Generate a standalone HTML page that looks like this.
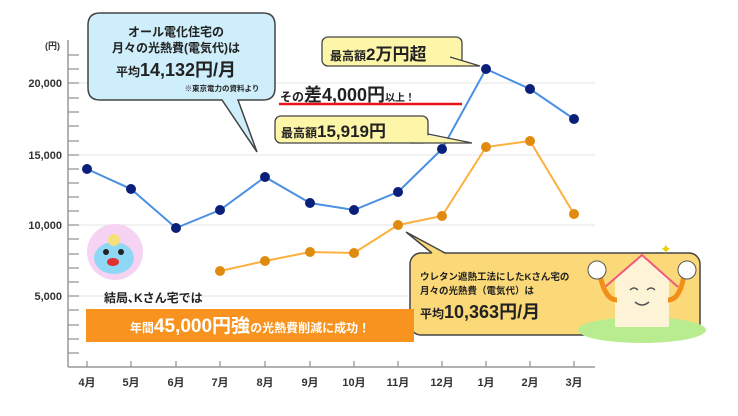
<!DOCTYPE html>
<html><head><meta charset="utf-8"><style>
body{margin:0;background:#fff;}
svg text{font-family:"Liberation Sans","Noto Sans CJK JP",sans-serif;}
</style></head><body>
<svg width="738" height="411" viewBox="0 0 738 411" xmlns="http://www.w3.org/2000/svg">
<rect width="738" height="411" fill="#fff"/>
<g stroke="#e4e4e4" stroke-width="1">
<line x1="68" y1="83" x2="595" y2="83"/><line x1="68" y1="155" x2="595" y2="155"/>
<line x1="68" y1="225" x2="595" y2="225"/><line x1="68" y1="296" x2="595" y2="296"/>
</g>
<g stroke="#999" stroke-width="1.5">
<line x1="68" y1="40" x2="68" y2="367"/><line x1="68" y1="367" x2="595" y2="367"/>
</g>
<g stroke="#999" stroke-width="1.3">
<line x1="68" x2="79" y1="353" y2="353"/><line x1="68" x2="79" y1="339" y2="339"/><line x1="68" x2="79" y1="325" y2="325"/><line x1="68" x2="79" y1="310" y2="310"/><line x1="68" x2="79" y1="296" y2="296"/>
<line x1="68" x2="79" y1="282" y2="282"/><line x1="68" x2="79" y1="268" y2="268"/><line x1="68" x2="79" y1="254" y2="254"/><line x1="68" x2="79" y1="239" y2="239"/><line x1="68" x2="79" y1="225" y2="225"/>
<line x1="68" x2="79" y1="211" y2="211"/><line x1="68" x2="79" y1="197" y2="197"/><line x1="68" x2="79" y1="183" y2="183"/><line x1="68" x2="79" y1="169" y2="169"/><line x1="68" x2="79" y1="155" y2="155"/>
<line x1="68" x2="79" y1="141" y2="141"/><line x1="68" x2="79" y1="126" y2="126"/><line x1="68" x2="79" y1="112" y2="112"/><line x1="68" x2="79" y1="98" y2="98"/><line x1="68" x2="79" y1="83" y2="83"/>
<line x1="68" x2="79" y1="69" y2="69"/><line x1="68" x2="79" y1="55" y2="55"/>
<line x1="87" x2="87" y1="361" y2="367"/><line x1="131" x2="131" y1="361" y2="367"/><line x1="176" x2="176" y1="361" y2="367"/><line x1="220" x2="220" y1="361" y2="367"/><line x1="265" x2="265" y1="361" y2="367"/><line x1="310" x2="310" y1="361" y2="367"/><line x1="354" x2="354" y1="361" y2="367"/><line x1="398" x2="398" y1="361" y2="367"/><line x1="442" x2="442" y1="361" y2="367"/><line x1="486" x2="486" y1="361" y2="367"/><line x1="530" x2="530" y1="361" y2="367"/><line x1="574" x2="574" y1="361" y2="367"/>
</g>
<g font-size="11" font-weight="bold" fill="#333" text-anchor="end">
<text x="62" y="87">20,000</text><text x="62" y="159">15,000</text>
<text x="62" y="229">10,000</text><text x="62" y="300">5,000</text>
<text x="60" y="49" font-size="9">(円)</text>
</g>
<g font-size="11" font-weight="bold" fill="#333" text-anchor="middle">
<text x="87" y="386">4月</text><text x="131" y="386">5月</text><text x="176" y="386">6月</text><text x="220" y="386">7月</text><text x="265" y="386">8月</text><text x="310" y="386">9月</text><text x="354" y="386">10月</text><text x="398" y="386">11月</text><text x="442" y="386">12月</text><text x="486" y="386">1月</text><text x="530" y="386">2月</text><text x="574" y="386">3月</text>
</g>
<polyline fill="none" stroke="#fbb040" stroke-width="2" points="220,271 265,261 310,252 354,253 398,225 442,216 486,147 530,141 574,214"/>
<g fill="#e08a10"><circle cx="220" cy="271" r="5"/><circle cx="265" cy="261" r="5"/><circle cx="310" cy="252" r="5"/><circle cx="354" cy="253" r="5"/><circle cx="398" cy="225" r="5"/><circle cx="442" cy="216" r="5"/><circle cx="486" cy="147" r="5"/><circle cx="530" cy="141" r="5"/><circle cx="574" cy="214" r="5"/></g>
<polyline fill="none" stroke="#4a90e2" stroke-width="2" points="87,169 131,189 176,228 220,210 265,177 310,203 354,210 398,192 442,149 486,69 530,89 574,119"/>
<g fill="#0a1f7a"><circle cx="87" cy="169" r="5"/><circle cx="131" cy="189" r="5"/><circle cx="176" cy="228" r="5"/><circle cx="220" cy="210" r="5"/><circle cx="265" cy="177" r="5"/><circle cx="310" cy="203" r="5"/><circle cx="354" cy="210" r="5"/><circle cx="398" cy="192" r="5"/><circle cx="442" cy="149" r="5"/><circle cx="486" cy="69" r="5"/><circle cx="530" cy="89" r="5"/><circle cx="574" cy="119" r="5"/></g>
<!-- blue bubble -->
<path d="M100,13 H263 Q275,13 275,25 V88 Q275,100 263,100 H238 L257,152 L222,100 H100 Q88,100 88,88 V25 Q88,13 100,13Z" fill="#cdeefa" stroke="#444" stroke-width="1.5"/>
<g font-weight="bold" fill="#222" text-anchor="middle">
<text x="176" y="36" font-size="12">オール電化住宅の</text>
<text x="176" y="52" font-size="12">月々の光熱費(電気代)は</text>
<text x="176" y="76" font-size="18"><tspan font-size="12">平均</tspan>14,132円/月</text>
<text x="222" y="91" font-size="7.5">※東京電力の資料より</text>
</g>
<!-- top yellow bubbles -->
<rect x="322" y="37" width="140" height="29" rx="6" fill="#fdf5a8" stroke="#444" stroke-width="1.3"/>
<polygon points="450,57 480,66 455,66" fill="#fdf5a8"/>
<polyline points="450,57 480,66 455,66" fill="none" stroke="#444" stroke-width="1.3"/>
<text x="330" y="60" font-size="17" font-weight="bold" fill="#222"><tspan font-size="12">最高額</tspan>2万円超</text>
<text x="280" y="101" font-size="18" font-weight="bold" fill="#222"><tspan font-size="12">その</tspan>差4,000円<tspan font-size="10">以上！</tspan></text>
<line x1="279" y1="104" x2="462" y2="104" stroke="#e8141a" stroke-width="2.5"/>
<rect x="275" y="116" width="153" height="27" rx="6" fill="#fdf5a8" stroke="#444" stroke-width="1.3"/>
<polygon points="420,134 472,143 410,143" fill="#fdf5a8"/>
<polyline points="428,134 472,143 410,143" fill="none" stroke="#444" stroke-width="1.3"/>
<text x="281" y="137" font-size="17" font-weight="bold" fill="#222"><tspan font-size="12">最高額</tspan>15,919円</text>
<!-- orange bubble -->
<rect x="410" y="253" width="290" height="82" rx="11" fill="#fbd978" stroke="#444" stroke-width="1.5"/>
<polygon points="432,254 406,232 445,254" fill="#fbd978"/>
<polyline points="432,253 406,232 445,253" fill="none" stroke="#444" stroke-width="1.5"/>
<g font-weight="bold" fill="#222">
<text x="420" y="280" font-size="9.5">ウレタン遮熱工法にしたKさん宅の</text>
<text x="420" y="294" font-size="9.5">月々の光熱費（電気代）は</text>
<text x="420" y="318" font-size="18"><tspan font-size="12">平均</tspan>10,363円/月</text>
</g>
<ellipse cx="642" cy="330" rx="64" ry="13" fill="#b9ec8f"/>
<path d="M615,277 L642,255 L669,277 V327 H615Z" fill="#fdf3d6"/>
<path d="M605,287 L642,255 L678,287" fill="none" stroke="#ef5a7a" stroke-width="2"/>
<path d="M600,275 Q605,300 617,300" fill="none" stroke="#f0901a" stroke-width="5"/>
<path d="M684,275 Q680,300 668,300" fill="none" stroke="#f0901a" stroke-width="5"/>
<circle cx="597" cy="270" r="9" fill="#fff" stroke="#555"/>
<circle cx="687" cy="270" r="9" fill="#fff" stroke="#555"/>
<path d="M630,290 q4,-4 8,0 M647,290 q4,-4 8,0 M635,302 q7,6 14,0" fill="none" stroke="#555" stroke-width="1.5"/>
<text x="660" y="254" font-size="14" fill="#e8d000">✦</text>
<!-- left character -->
<circle cx="115" cy="252" r="28" fill="#f6d3f2"/>
<ellipse cx="114" cy="258" rx="20" ry="16" fill="#8fd8f5"/>
<circle cx="114" cy="240" r="6" fill="#f5e07a"/>
<ellipse cx="113" cy="262" rx="6" ry="4" fill="#e03030"/>
<circle cx="106" cy="252" r="3" fill="#222"/><circle cx="121" cy="252" r="3" fill="#222"/>
<text x="104" y="302" font-size="12" font-weight="bold" fill="#222">結局､Kさん宅では</text>
<rect x="86" y="309" width="328" height="33" fill="#f7931e"/>
<text x="250" y="332" font-size="19" font-weight="bold" fill="#fff" text-anchor="middle"><tspan font-size="12">年間</tspan>45,000円強<tspan font-size="12">の光熱費削減に成功！</tspan></text>
</svg>
</body></html>
